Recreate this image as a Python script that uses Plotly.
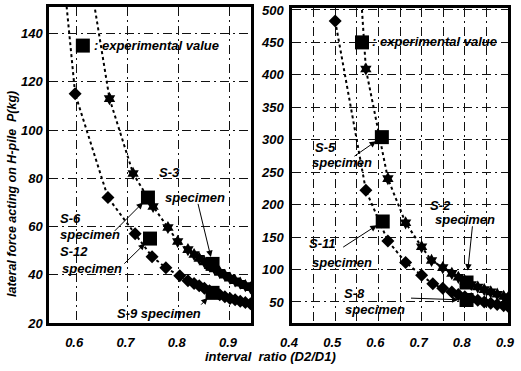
import plotly.graph_objects as go

# ---------------- data ----------------
# Left panel (S-3/S-6 model: stars, S-9/S-12 model: diamonds)
left_star_x = [0.62, 0.665, 0.711, 0.75, 0.779, 0.798, 0.818, 0.83, 0.84, 0.85, 0.86, 0.87,
               0.88, 0.89, 0.90, 0.91, 0.92, 0.93, 0.94]
left_star_y = [172, 113, 82, 68.3, 59.6, 53.8, 50.4, 48.4, 46.8, 45.3, 43.8, 42.4,
               41.0, 39.8, 38.6, 37.5, 36.5, 35.5, 34.6]
left_dia_x = [0.57, 0.598, 0.662, 0.715, 0.748, 0.775, 0.802, 0.818, 0.83, 0.84, 0.85, 0.86,
              0.87, 0.88, 0.89, 0.90, 0.91, 0.92, 0.93, 0.94]
left_dia_y = [176, 115, 72, 57, 47.5, 42.9, 39.6, 37.5, 36.4, 35.4, 34.4, 33.4,
              32.5, 31.7, 30.9, 30.2, 29.6, 29.0, 28.5, 28.0]
left_exp_x = [0.74, 0.744, 0.866, 0.866]
left_exp_y = [72, 55, 44.5, 32.5]
left_exp_labels = ["S-6", "S-12", "S-3", "S-9"]

# Right panel (S-2/S-5 model: stars, S-8/S-11 model: diamonds)
right_star_x = [0.55, 0.571, 0.622, 0.663, 0.70, 0.723, 0.749, 0.77, 0.785, 0.80, 0.815,
                0.83, 0.845, 0.86, 0.875, 0.89, 0.90]
right_star_y = [620, 409, 240, 172, 135, 114, 103, 94, 88, 82, 77,
                73, 69, 65.5, 62, 58.5, 56.5]
right_dia_x = [0.50, 0.571, 0.622, 0.663, 0.70, 0.726, 0.749, 0.77, 0.785, 0.80, 0.815,
               0.83, 0.845, 0.86, 0.875, 0.89, 0.90]
right_dia_y = [483, 222, 144, 111, 91, 78, 71, 65.5, 61.5, 58, 55,
               52.5, 50, 48, 46, 44.3, 43.3]
right_exp_x = [0.608, 0.61, 0.804, 0.804]
right_exp_y = [304, 174, 80, 53]
right_exp_labels = ["S-5", "S-11", "S-2", "S-8"]

left_legend_x, left_legend_y = [0.613], [135]
right_legend_x, right_legend_y = [0.562], [450]

x_title = "interval\u00a0\u00a0ratio (D2/D1)"
y_title = "lateral force acting on H-pile\u00a0\u00a0P(kg)"

# ---------------- styles ----------------
W, H = 521, 371
FONT = "Liberation Sans, Arial, sans-serif"
fbi = dict(family=FONT, size=13, color="black", weight="bold", style="italic")
GDASH = "9px,4px,2px,4px"


def px(x):
    return x / W


def py(y):
    return 1 - y / H


fig = go.Figure()

line_style = dict(color="black", width=2, dash="dot")


def add_series(xs, ys, sym, size, xa, ya):
    fig.add_trace(go.Scatter(x=xs, y=ys, mode="lines+markers", line=line_style,
                             marker=dict(symbol=sym, size=size, color="black"),
                             xaxis=xa, yaxis=ya, showlegend=False, hoverinfo="skip"))


add_series(left_star_x, left_star_y, "hexagram", 10, "x", "y")
add_series(left_dia_x, left_dia_y, "diamond", 10, "x", "y")
add_series(right_star_x, right_star_y, "hexagram", 10, "x2", "y2")
add_series(right_dia_x, right_dia_y, "diamond", 10, "x2", "y2")

sq = dict(symbol="square", size=14, color="black")
fig.add_trace(go.Scatter(x=left_exp_x + left_legend_x, y=left_exp_y + left_legend_y, mode="markers",
                         marker=sq, xaxis="x", yaxis="y", showlegend=False, hoverinfo="skip"))
fig.add_trace(go.Scatter(x=right_exp_x + right_legend_x, y=right_exp_y + right_legend_y, mode="markers",
                         marker=sq, xaxis="x2", yaxis="y2", showlegend=False, hoverinfo="skip"))

grid = dict(showgrid=True, gridcolor="#111", gridwidth=1, griddash=GDASH,
            showline=True, mirror=True, linecolor="black", linewidth=2.5,
            zeroline=False, tickfont=fbi, ticks="", automargin=False)

fig.update_layout(
    width=W, height=H, margin=dict(l=0, r=0, t=0, b=0),
    paper_bgcolor="white", plot_bgcolor="white", font=fbi,
    xaxis=dict(domain=[px(49), px(251)], range=[0.547, 0.941], tick0=0.6, dtick=0.1,
               tickformat=".1f", anchor="y", ticklabelstandoff=6, ticklabelshift=-2, **grid),
    yaxis=dict(domain=[py(323), py(7)], range=[20, 151], tick0=20, dtick=20,
               anchor="x", ticklabelstandoff=1, **grid),
    xaxis2=dict(domain=[px(292), px(508)], range=[0.4, 0.9], tick0=0.4, dtick=0.1,
                tickformat=".1f", anchor="y2", ticklabelstandoff=6, ticklabelshift=-3,
                minor=dict(dtick=0.05, showgrid=True, gridcolor="#111", gridwidth=1,
                           griddash=GDASH), **grid),
    yaxis2=dict(domain=[py(323), py(8)], range=[17.6, 503], tick0=50, dtick=50,
                anchor="x2", ticklabelstandoff=3, **grid),
)

ann = []


def text(s, x, y, xanchor="center", size=13):
    ann.append(dict(text=s, x=px(x), y=py(y), xref="paper", yref="paper", showarrow=False,
                    xanchor=xanchor, yanchor="middle", font=dict(fbi, size=size)))


def arrow(xr, yr, x, y, ax, ay, standoff=7):
    ann.append(dict(text="", x=x, y=y, ax=ax, ay=ay, xref=xr, yref=yr, axref=xr, ayref=yr,
                    showarrow=True, arrowhead=2, arrowsize=1.3, arrowwidth=1, arrowcolor="black",
                    standoff=standoff))


# legend texts
text(": experimental value", 92, 45, "left")
text(": experimental value", 370, 42, "left")

# left labels
text("S-3", 157, 172, "left")
text("specimen", 163, 197, "left")
text("S-6", 58, 218, "left")
text("specimen", 58, 234, "left")
text("S-12", 58, 252, "left")
text("specimen", 60, 268, "left")
text("S-9 specimen", 115, 313, "left")

# right labels
text("S-5", 313, 147, "left")
text("specimen", 310, 162, "left")
text("S-11", 307, 243, "left")
text("specimen", 310, 262, "left")
text("S-2", 428, 205, "left")
text("specimen", 433, 219, "left")
text("S-8", 342, 293, "left")
text("specimen", 343, 309, "left")

# arrows (left)
arrow("x", "y", left_exp_x[2], left_exp_y[2], 0.837, 70)
arrow("x", "y", left_exp_x[0], left_exp_y[0], 0.672, 57.5)
arrow("x", "y", left_exp_x[1], left_exp_y[1], 0.691, 44)
arrow("x", "y", left_exp_x[3], left_exp_y[3], 0.841, 27)
# arrows (right)
arrow("x2", "y2", right_exp_x[0], right_exp_y[0], 0.541, 273)
arrow("x2", "y2", right_exp_x[1], right_exp_y[1], 0.515, 133)
arrow("x2", "y2", right_exp_x[2], right_exp_y[2], 0.818, 169, standoff=12)
arrow("x2", "y2", right_exp_x[3], right_exp_y[3], 0.672, 56, standoff=8)

# axis titles
ann.append(dict(text=x_title, x=px(270), y=py(356), xref="paper", yref="paper", showarrow=False,
                xanchor="center", yanchor="middle", font=dict(fbi, size=13)))
ann.append(dict(text=y_title, x=px(12), y=py(194), xref="paper", yref="paper", showarrow=False,
                xanchor="center", yanchor="middle", textangle=-90, font=dict(fbi, size=12.5)))

fig.update_layout(annotations=ann)
fig.write_html("out.html", config={"displayModeBar": False},
               post_script="document.body.style.margin='0';document.body.style.overflow='hidden';")
